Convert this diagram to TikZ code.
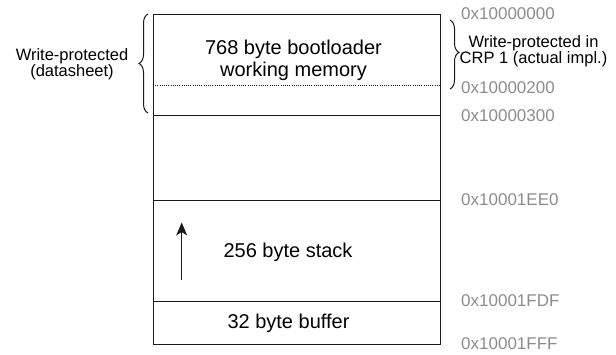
\documentclass[tikz,border=0pt]{standalone}
\usepackage{fontspec}
\setmainfont{Liberation Sans}
\usetikzlibrary{arrows.meta,decorations.pathreplacing}
\definecolor{addrgray}{HTML}{8C8C8C}
\definecolor{edge}{HTML}{1A1A1A}
\begin{document}
\begin{tikzpicture}[x=1pt,y=-1pt,
  block/.style={draw=edge,line width=1pt,minimum width=287pt,inner sep=0pt,outer sep=0pt},
  maintxt/.style={font=\fontsize{20}{22}\selectfont,align=center,inner sep=0pt},
  sidetxt/.style={font=\fontsize{16.5}{16}\selectfont,align=center,inner sep=0pt},
  addr/.style={font=\fontsize{17}{19}\selectfont,text=addrgray,anchor=west,inner sep=0pt},
  bracestyle/.style={draw=edge,line width=1pt,decorate,decoration={brace,amplitude=9pt}}]
\useasboundingbox (0,0) rectangle (616,354);
% memory blocks
\node[block,minimum height=101pt] (boot) at (296.5,64.5) {};
\node[block,minimum height=85.7pt] (free) at (296.5,157.85) {};
\node[block,minimum height=101pt] (stack) at (296.5,251.2) {};
\node[block,minimum height=42.3pt] (buf) at (296.5,322.85) {};
% dotted divider
\coordinate (dl) at (153,85);
\coordinate (dr) at (440,85);
\draw[edge,line width=0.8pt,dash pattern=on 0.8pt off 1.4pt] (dl) -- (dr);
% texts
\node[maintxt] (boottxt) at (293.5,60) {768 byte bootloader\\working memory};
\node[maintxt] (stacktxt) at (288,252) {256 byte stack};
\node[maintxt] (buftxt) at (288.5,323.5) {32 byte buffer};
% arrow
\coordinate (as) at (181.7,280);
\coordinate (ae) at (181.7,222.5);
\draw[edge,line width=1.1pt,-{Stealth[length=13pt,width=11pt,inset=3.5pt]}] (as) -- (ae);
% braces
\coordinate (lb1) at (148,113);
\coordinate (lb2) at (148,14);
\draw[bracestyle] (lb1) -- (lb2);
\coordinate (rb1) at (450,20);
\coordinate (rb2) at (450,89);
\draw[bracestyle,decoration={brace,amplitude=9pt,aspect=0.47}] (rb1) -- (rb2);
\node[sidetxt] (lefttxt) at (72,64) {Write-protected\\(datasheet)};
\node[sidetxt] (righttxt) at (533.5,51) {Write-protected in\\CRP 1 (actual impl.)};
% addresses
\node[addr] (a0) at (461,14) {0x10000000};
\node[addr] (a1) at (461,88) {0x10000200};
\node[addr] (a2) at (461,116) {0x10000300};
\node[addr] (a3) at (461,200) {0x10001EE0};
\node[addr] (a4) at (461,301) {0x10001FDF};
\node[addr] (a5) at (461,344) {0x10001FFF};
\end{tikzpicture}
\end{document}
